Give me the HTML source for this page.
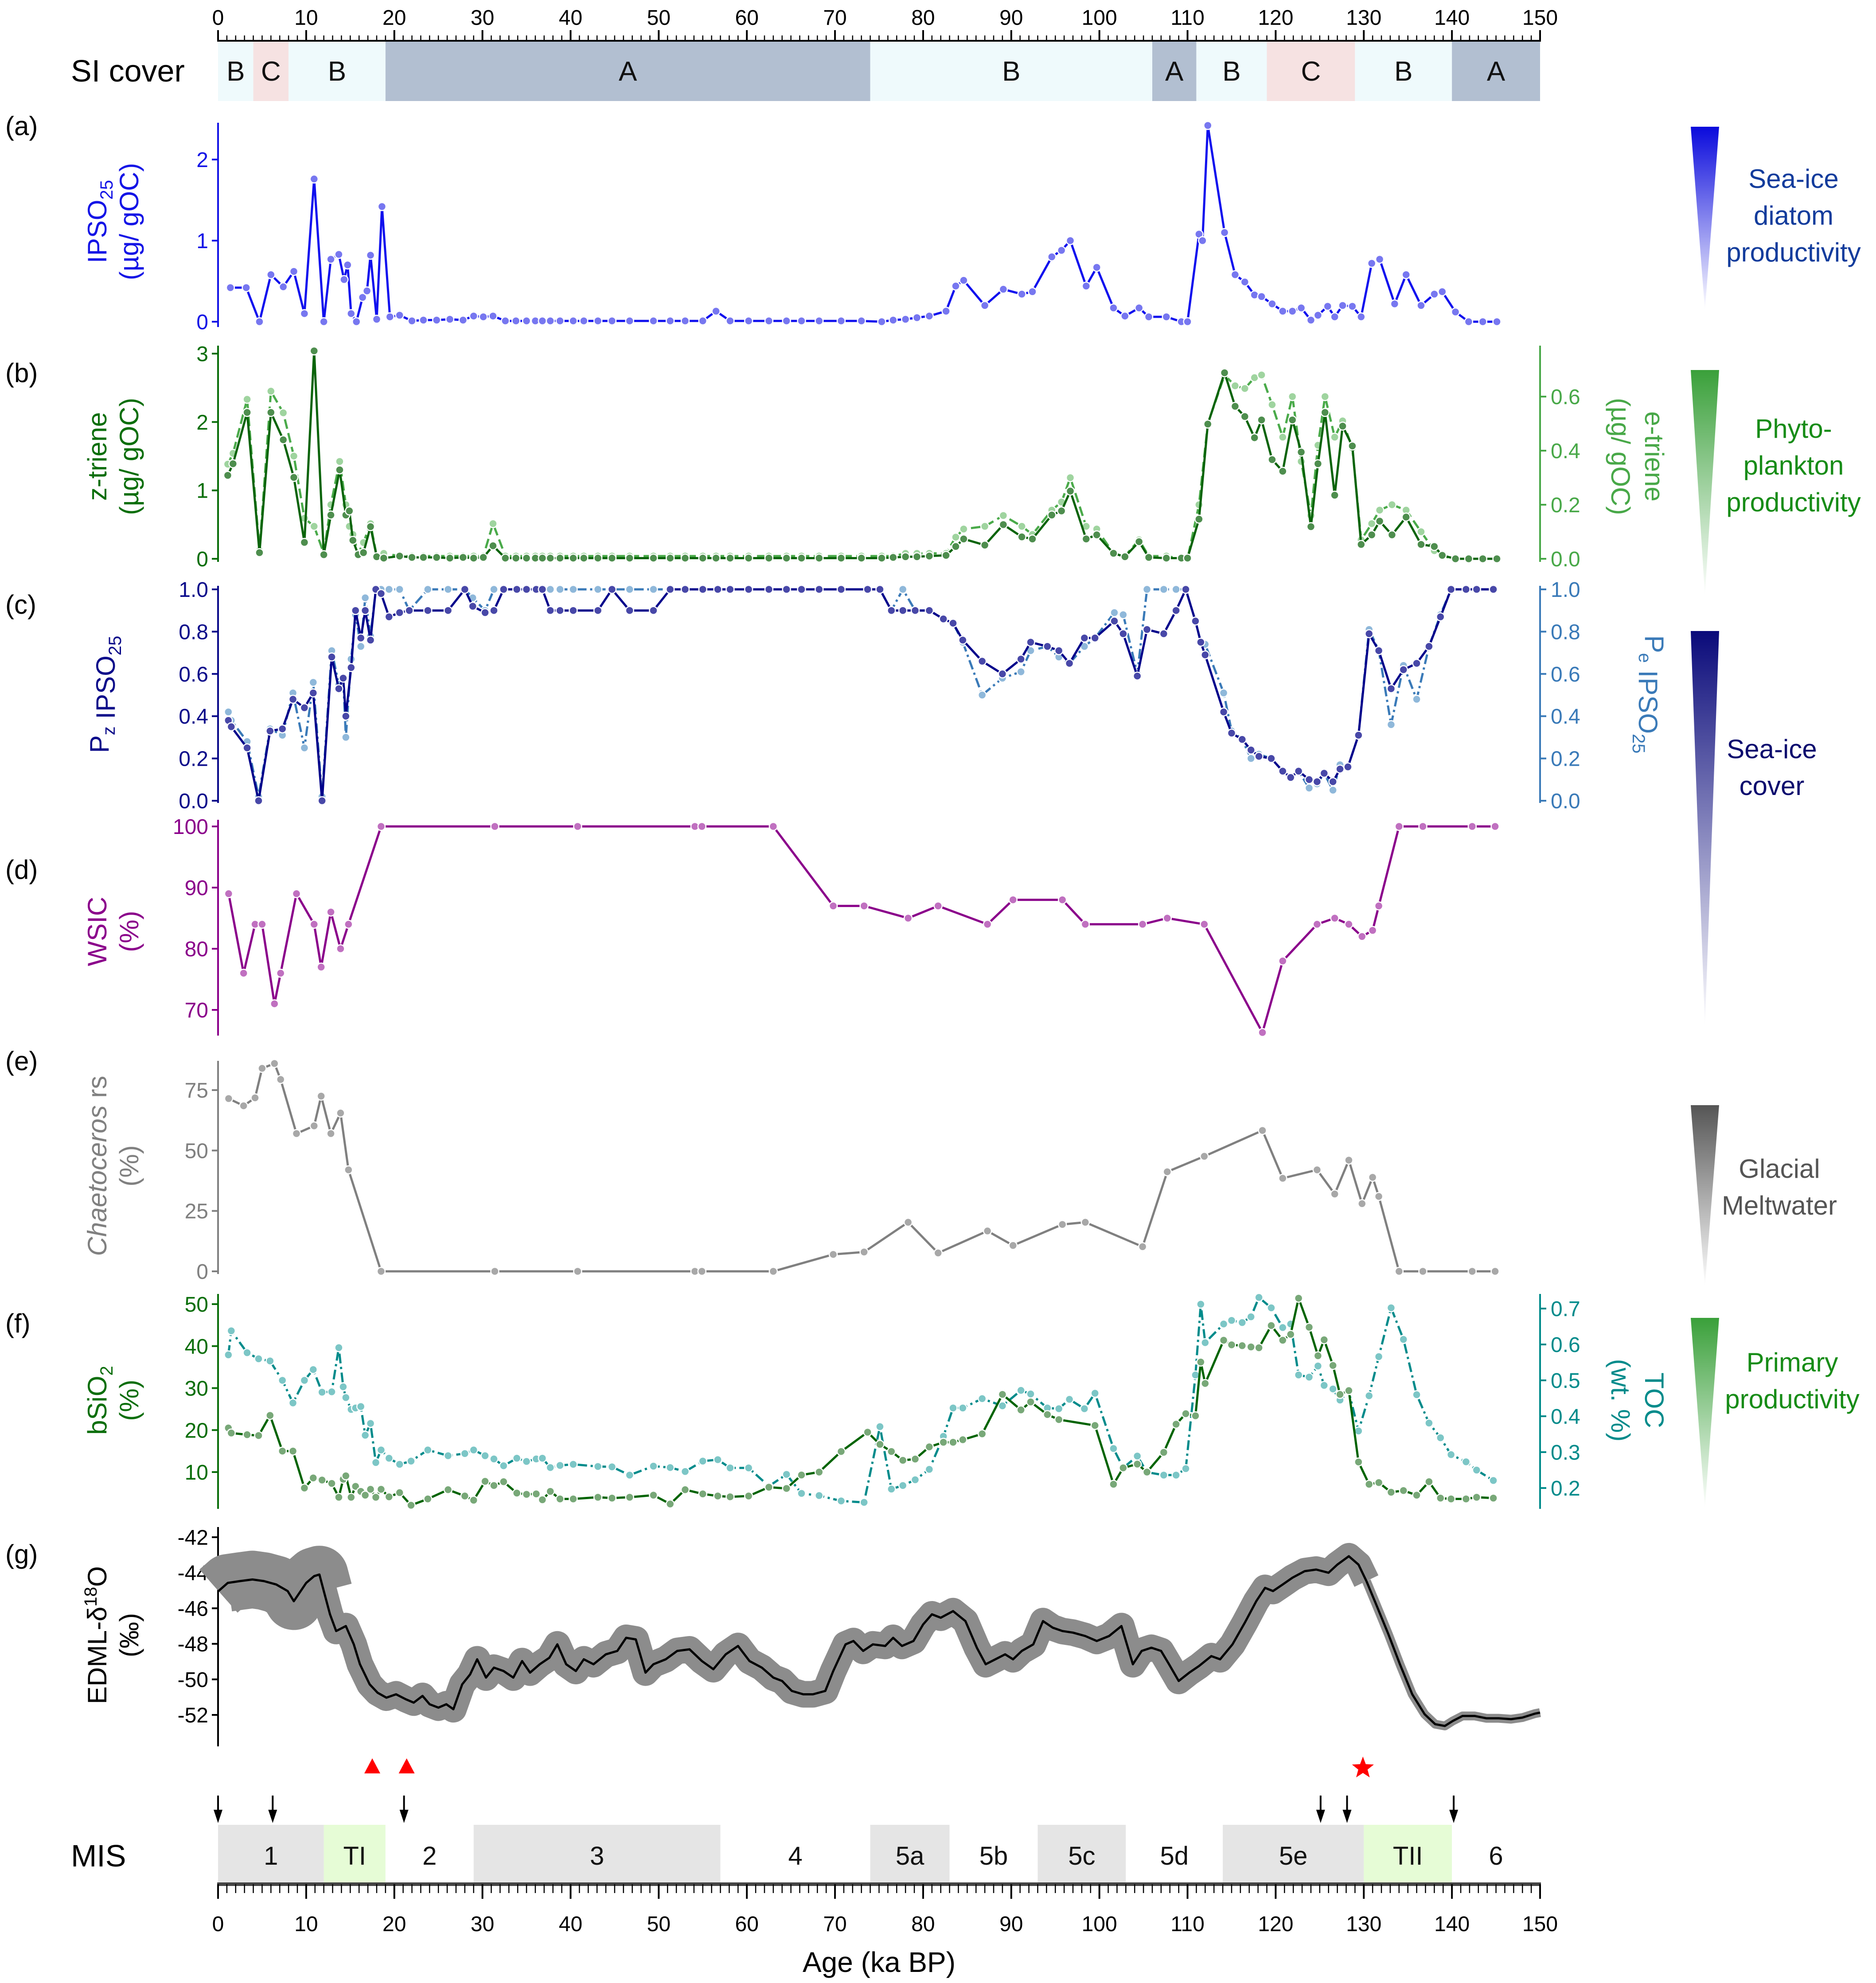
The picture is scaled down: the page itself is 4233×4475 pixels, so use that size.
<!DOCTYPE html>
<html><head><meta charset="utf-8"><style>
html,body{margin:0;padding:0;background:#fff}
svg{display:block;font-family:"Liberation Sans",Arial,sans-serif}
</style></head><body>
<svg id="chart" xmlns="http://www.w3.org/2000/svg" width="4233" height="4475" viewBox="0 0 4233 4475">
<defs>
<linearGradient id="gBlue" x1="0" y1="0" x2="0" y2="1"><stop offset="0" stop-color="#0a0adc"/><stop offset="1" stop-color="#0a0adc" stop-opacity="0"/></linearGradient>
<linearGradient id="gGreen" x1="0" y1="0" x2="0" y2="1"><stop offset="0" stop-color="#3aa03a"/><stop offset="1" stop-color="#3aa03a" stop-opacity="0"/></linearGradient>
<linearGradient id="gNavy" x1="0" y1="0" x2="0" y2="1"><stop offset="0" stop-color="#0a0a7a"/><stop offset="1" stop-color="#0a0a7a" stop-opacity="0"/></linearGradient>
<linearGradient id="gGray" x1="0" y1="0" x2="0" y2="1"><stop offset="0" stop-color="#555"/><stop offset="1" stop-color="#555" stop-opacity="0"/></linearGradient>
</defs>
<g id="root"></g>
</svg>
<script>
// ---------- data ----------
const siBandStarts = [0,4,8,19,74,106,111,119,129,140];
const siBandEnds   = [4,8,19,74,106,111,119,129,140,150];
const siBandLabels = ["B","C","B","A","B","A","B","C","B","A"];
const misStarts = [0,12,19,29,57,74,83,93,103,114,130,140];
const misEnds   = [12,19,29,57,74,83,93,103,114,130,140,150];
const misLabels = ["1","TI","2","3","4","5a","5b","5c","5d","5e","TII","6"];
const xTicks = [0,10,20,30,40,50,60,70,80,90,100,110,120,130,140,150];

const ipsoAges = [1.4,3.2,4.7,6,7.4,8.6,9.8,10.9,12,12.8,13.7,14.3,14.7,15.1,15.7,16.4,16.9,17.3,18,18.6,19.5,20.6,22,23.3,24.8,26.3,27.8,29,30.1,31.2,32.6,33.8,35,36,36.8,37.7,38.8,40.3,41.5,43.1,44.7,46.7,49.4,51.3,53,55,56.5,58.1,60.2,62.5,64.5,66.2,68.2,70.7,73,75.3,76.6,78,79.3,80.7,82.6,83.7,84.6,87,89.1,91.2,92.4,94.6,95.7,96.7,98.5,99.7,101.6,102.9,104.5,105.6,107.6,109.3,110,111.3,111.7,112.3,114.2,115.4,116.5,117.6,118.4,119.6,120.8,121.9,122.9,124,124.8,125.9,126.7,127.6,128.7,129.7,130.9,131.8,133.5,134.8,136.5,138,138.9,140.4,141.9,143.5,145.1];
const ipsoVals = [0.42,0.42,0,0.58,0.43,0.62,0.1,1.76,0,0.77,0.83,0.52,0.7,0.1,0,0.3,0.38,0.82,0.03,1.42,0.06,0.08,0.01,0.02,0.02,0.03,0.02,0.07,0.06,0.07,0.01,0.01,0.01,0.01,0.01,0.01,0.01,0.01,0.01,0.01,0.01,0.01,0.01,0.01,0.01,0.01,0.13,0.01,0.01,0.01,0.01,0.01,0.01,0.01,0.01,0,0.02,0.03,0.05,0.07,0.13,0.44,0.51,0.2,0.4,0.34,0.37,0.8,0.88,1.0,0.44,0.67,0.17,0.07,0.17,0.06,0.06,0,0,1.08,1.0,2.42,1.1,0.58,0.49,0.33,0.31,0.22,0.13,0.13,0.17,0.02,0.08,0.19,0.06,0.2,0.19,0.06,0.72,0.77,0.22,0.58,0.2,0.34,0.37,0.12,0,0,0];
const ipsoTicks = [0,1,2];

const trieneAges = [1.1,1.7,3.3,4.7,6,7.4,8.6,9.8,10.9,12,12.8,13.8,14.5,14.9,15.3,15.9,16.5,17.3,18,18.8,20.6,22,23.3,24.8,26.3,27.8,29,30.1,31.2,32.6,33.8,35,36,36.8,37.7,38.8,40.3,41.5,43.1,44.7,46.7,49.4,51.3,53,55,56.5,58.1,60.2,62.5,64.5,66.2,68.2,70.7,73,75.3,76.6,78,79.3,80.7,82.6,83.7,84.6,87,89.1,91.2,92.4,94.6,95.7,96.7,98.5,99.7,101.6,102.9,104.5,105.6,107.6,109.3,110,111.3,112.3,114.2,115.4,116.5,117.6,118.4,119.6,120.8,121.9,122.9,124,124.8,125.6,126.7,127.6,128.7,129.7,130.9,131.8,133.2,134.8,136.5,138,138.9,140.4,141.9,143.5,145.1];
const zTrieneVals = [1.22,1.39,2.14,0.09,2.14,1.74,1.19,0.24,3.04,0.06,0.64,1.3,0.64,0.7,0.27,0.06,0.09,0.47,0.03,0.01,0.04,0.02,0.02,0.02,0.01,0.02,0.01,0.02,0.19,0.01,0.01,0.01,0.01,0.01,0.01,0.01,0.01,0.01,0.01,0.01,0.01,0.01,0.01,0.01,0.01,0.01,0.01,0.01,0.01,0.01,0.01,0.01,0.01,0.01,0.01,0.02,0.03,0.03,0.04,0.05,0.18,0.29,0.2,0.5,0.32,0.29,0.64,0.7,0.99,0.29,0.35,0.08,0.03,0.25,0.02,0.01,0.01,0.01,0.58,1.97,2.72,2.23,2.08,1.77,2.03,1.45,1.28,2.03,1.56,0.47,1.39,2.14,0.93,1.94,1.65,0.21,0.35,0.55,0.35,0.61,0.21,0.18,0.05,0,0,0,0];
const eTrieneVals = [0.35,0.39,0.59,0.03,0.62,0.54,0.38,0.15,0.12,0.02,0.2,0.36,0.2,0.12,0.09,0.02,0.06,0.13,0.01,0.02,0.01,0.01,0.01,0.01,0.01,0.01,0.01,0.01,0.13,0.01,0.01,0.01,0.01,0.01,0.01,0.01,0.01,0.01,0.01,0.01,0.01,0.01,0.01,0.01,0.01,0.01,0.01,0.01,0.01,0.01,0.01,0.01,0.01,0.01,0.01,0.01,0.02,0.02,0.02,0.02,0.08,0.11,0.12,0.16,0.12,0.09,0.18,0.21,0.3,0.12,0.11,0.02,0.01,0.07,0.01,0.01,0,0,0.2,0.5,0.68,0.64,0.63,0.67,0.68,0.57,0.45,0.6,0.36,0.16,0.42,0.6,0.45,0.51,0.41,0.07,0.13,0.18,0.2,0.18,0.1,0.03,0.01,0,0,0,0];
const zTicks = [0,1,2,3];
const eTicks = [0,0.2,0.4,0.6];

const pAges = [1.17,1.5,3.3,4.6,5.9,7.3,8.5,9.8,10.8,11.8,12.9,13.7,14.2,14.5,15.1,15.6,16.2,16.7,17.3,17.9,18.5,19.4,20.6,21.7,23.8,26.1,28,28.9,30.3,31.3,32.4,33.9,35,36.1,36.8,37.7,38.8,40.3,43.1,44.7,46.7,49.4,51.3,53,55,56.7,58.1,60.2,62.5,64.5,66.2,68.2,70.7,73.7,75.1,76.4,77.7,79.1,80.7,82.3,83.4,84.5,86.7,89,91.1,92.2,94.1,95.4,96.6,98.3,99.5,101.7,102.7,104.3,105.4,107.3,108.7,109.8,110.9,111.5,112,114.1,115,116.2,117.2,118.1,119.5,120.8,121.7,122.6,123.8,124.7,125.5,126.5,127.3,128.2,129.4,130.6,131.7,133.1,134.5,136,137.4,138.7,139.9,141.6,142.8,144.7];
const pzVals = [0.38,0.35,0.25,0,0.33,0.34,0.48,0.44,0.51,0,0.68,0.53,0.58,0.4,0.63,0.9,0.77,0.9,0.76,1.0,0.98,0.87,0.89,0.9,0.9,0.9,1.0,0.92,0.89,0.9,1.0,1.0,1.0,1.0,1.0,0.9,0.9,0.9,0.9,1.0,0.9,0.9,1.0,1.0,1.0,1.0,1.0,1.0,1.0,1.0,1.0,1.0,1.0,1.0,1.0,0.9,0.9,0.9,0.9,0.86,0.84,0.76,0.66,0.6,0.67,0.75,0.73,0.71,0.65,0.77,0.77,0.85,0.79,0.59,0.81,0.79,0.9,1.0,0.85,0.75,0.69,0.42,0.32,0.29,0.24,0.21,0.2,0.14,0.11,0.14,0.1,0.09,0.13,0.09,0.15,0.16,0.31,0.79,0.71,0.53,0.62,0.65,0.73,0.87,1.0,1.0,1.0,1.0];
const peVals = [0.42,0.38,0.28,0.02,0.34,0.31,0.51,0.25,0.56,0.02,0.71,0.55,0.58,0.3,0.67,0.88,0.73,0.96,0.78,1.0,1.0,1.0,1.0,0.9,1.0,1.0,1.0,0.96,0.9,1.0,1.0,1.0,1.0,1.0,1.0,1.0,1.0,1.0,1.0,1.0,1.0,1.0,1.0,1.0,1.0,1.0,1.0,1.0,1.0,1.0,1.0,1.0,1.0,1.0,1.0,0.9,1.0,0.9,0.9,0.86,0.84,0.75,0.5,0.58,0.61,0.71,0.73,0.68,0.65,0.73,0.77,0.89,0.88,0.6,1.0,1.0,1.0,1.0,0.85,0.75,0.74,0.51,0.33,0.29,0.2,0.22,0.2,0.14,0.11,0.14,0.06,0.08,0.13,0.05,0.17,0.16,0.31,0.81,0.71,0.36,0.64,0.48,0.73,0.88,1.0,1.0,1.0,1.0];
const pTicks = [0,0.2,0.4,0.6,0.8,1.0];

const wsicAges = [1.2,2.9,4.2,5,6.4,7.1,8.9,10.9,11.7,12.8,13.9,14.8,18.5,31.4,40.8,54.1,54.9,63,69.8,73.3,78.3,81.7,87.3,90.2,95.8,98.4,104.9,107.7,111.9,118.5,120.8,124.7,126.7,128.3,129.8,131,131.7,134,136.7,142.3,144.9];
const wsicVals = [89,76,84,84,71,76,89,84,77,86,80,84,100,100,100,100,100,100,87,87,85,87,84,88,88,84,84,85,84,66.3,78,84,85,84,82,83,87,100,100,100,100];
const wsicTicks = [70,80,90,100];

const chaetAges = wsicAges;
const chaetVals = [71.5,68.5,71.8,84,86,79.4,57,60.2,72.5,57,65.5,42,0,0,0,0,0,0,7,8,20.3,7.6,16.7,10.7,19.4,20.3,10.2,41.2,47.6,58.3,38.5,42,32,46,28,38.9,31,0,0,0,0];
const chaetTicks = [0,25,50,75];

const bsiAges = [1.17,1.5,3.3,4.6,5.9,7.3,8.5,9.8,10.8,11.8,12.9,13.7,14.2,14.5,15.1,15.6,16.2,16.7,17.3,17.9,18.5,19.4,20.6,21.9,23.8,26.1,28,29,30.3,31.3,32.4,33.9,35,36.1,36.8,37.7,38.8,40.3,43.1,44.7,46.7,49.4,51.3,53,55,56.7,58.1,60.2,62.5,64.5,66.2,68.2,70.7,73.7,75.1,76.4,77.7,79.1,80.7,82.3,83.4,84.5,86.7,89,91.1,92.2,94.1,95.4,99.5,101.6,102.7,104.3,105.4,107.3,108.7,109.8,110.9,111.5,112,114.1,115,116.2,117.2,118.1,119.5,120.8,121.7,122.6,123.8,124.8,125.5,126.5,127.3,128.3,129.4,130.6,131.7,133.1,134.5,136,137.4,138.7,139.9,141.6,142.8,144.7];
const bsiVals = [20.5,19.3,18.9,18.7,23.5,15,15,6.2,8.6,8.1,7.3,4,8.3,9.1,4,6.6,5.4,4.5,5.9,4,5.9,4.1,5.1,2.1,3.6,5.8,4.3,3.3,7.8,6.8,7.7,5,4.7,4.8,3.4,5.4,3.6,3.6,4,3.8,4,4.5,2.4,5.8,4.8,4.3,4.1,4.3,6.4,6.1,9.3,10,14.9,19.5,16.6,14.9,12.8,13.1,16,17.1,17.1,17.7,19.1,28.5,24.8,26.7,23.7,22.5,21.1,7.1,11,11.9,10,14.7,21.4,23.9,23.4,36.2,31.1,41.4,40.3,40.1,39.8,39.6,44.9,41.4,42.8,51.4,44.5,37.7,41.5,35.4,28.5,29.4,12.4,7.1,7.5,5.2,5.6,4.5,7.7,3.8,3.6,3.6,4,3.8];
const bsiTicks = [10,20,30,40,50];

const tocAges = [1.17,1.5,3.3,4.6,5.9,7.3,8.5,9.8,10.8,11.8,12.9,13.7,14.2,14.5,15.1,15.6,16.2,16.7,17.3,17.9,18.5,19.4,20.6,21.9,23.8,26.1,28,29,30.3,31.3,32.4,33.9,35,36.1,36.8,37.7,38.8,40.3,43.1,44.7,46.7,49.4,51.3,53,55,56.7,58.1,60.2,62.5,64.5,66.2,68.2,70.7,73.3,75.1,76.4,77.7,79.1,80.7,82.3,83.4,84.5,86.7,89,91.1,92.2,94.1,95.4,96.6,98.3,99.5,101.6,102.7,104.3,105.4,107.3,108.7,109.8,110.9,111.5,112,114.1,115,116.2,117.2,118.1,119.5,120.8,121.7,122.6,123.8,124.8,125.5,126.5,127.3,128.3,129.4,130.6,131.7,133.1,134.5,136,137.4,138.7,139.9,141.6,142.8,144.7];
const tocVals = [0.571,0.638,0.577,0.56,0.554,0.5,0.437,0.5,0.53,0.467,0.468,0.591,0.482,0.452,0.419,0.423,0.427,0.347,0.38,0.271,0.306,0.283,0.266,0.275,0.306,0.29,0.296,0.306,0.29,0.281,0.262,0.283,0.274,0.281,0.283,0.257,0.263,0.266,0.26,0.259,0.236,0.261,0.257,0.246,0.275,0.279,0.256,0.256,0.205,0.238,0.185,0.179,0.164,0.16,0.371,0.197,0.207,0.223,0.252,0.344,0.423,0.423,0.449,0.429,0.472,0.462,0.423,0.421,0.447,0.421,0.464,0.31,0.256,0.289,0.244,0.236,0.236,0.254,0.515,0.712,0.605,0.657,0.667,0.661,0.677,0.731,0.702,0.647,0.657,0.515,0.509,0.54,0.486,0.476,0.445,0.468,0.359,0.457,0.566,0.702,0.614,0.46,0.381,0.34,0.293,0.273,0.25,0.221];
const tocTicks = [0.2,0.3,0.4,0.5,0.6,0.7];

const edmlAges = [0.05,1.1,2.5,3.9,5.2,6.6,7.9,8.6,10,10.9,11.5,12,12.7,13.4,14.5,15.4,16.1,17.2,18.1,19.1,20.2,21.3,22.2,23.2,24,25,25.9,26.7,27.7,28.6,29.4,30.4,31.3,32.4,33.5,34.5,35.4,36.5,37.6,38.5,39.5,40.6,41.5,42.6,44,45.3,46.3,47.4,48.5,49.4,50.8,52.1,53.5,54.9,56.2,57.6,59,60.3,61.7,63,64,65.1,66.4,67.5,68.9,69.8,71.2,72.1,73.2,74.3,75.7,76.6,77.6,78.9,80,81,82,83.4,84.8,86.1,87.1,88.2,89.3,90.2,91.2,92.5,93.6,94.7,95.8,97,98.4,99.7,101.1,102.5,103.8,104.8,105.9,107,107.9,109,110.2,111.3,112.7,113.7,115.1,116.5,117.8,118.8,119.7,120.8,121.9,123.3,124.6,126,127,128.3,129.4,130.3,131.4,132.8,134.1,135.5,136.9,138.1,139.2,140.1,141.2,142.6,143.9,145.3,146.7,148,149.4,150];
const edmlVals = [-45.03,-44.57,-44.47,-44.38,-44.47,-44.66,-45.03,-45.6,-44.57,-44.19,-44.1,-45.03,-46.34,-47.28,-47,-48.03,-49.15,-50.28,-50.75,-51.03,-50.84,-51.12,-51.31,-50.93,-51.4,-51.59,-51.4,-51.68,-50.28,-49.72,-48.87,-49.9,-49.34,-49.53,-49.9,-48.97,-49.62,-49.15,-48.78,-48.03,-49.15,-49.53,-48.87,-49.15,-48.59,-48.4,-47.66,-47.75,-49.62,-49.15,-48.87,-48.4,-48.31,-48.97,-49.43,-48.59,-48.12,-48.97,-49.34,-49.9,-50.09,-50.65,-50.84,-50.84,-50.65,-49.53,-48.03,-47.84,-48.4,-48.03,-48.12,-47.66,-48.12,-47.84,-46.91,-46.34,-46.53,-46.16,-46.72,-48.22,-49.15,-48.87,-48.59,-48.87,-48.4,-48.03,-46.72,-47.09,-47.28,-47.37,-47.56,-47.84,-47.56,-47,-49.15,-48.4,-48.22,-48.4,-49.15,-50.09,-49.62,-49.25,-48.69,-48.87,-48.03,-46.81,-45.6,-44.85,-45.03,-44.66,-44.28,-43.91,-43.82,-44,-43.54,-43.07,-43.54,-44.47,-45.78,-47.47,-49.15,-50.84,-51.96,-52.52,-52.62,-52.34,-52.06,-52.06,-52.19,-52.19,-52.24,-52.15,-51.93,-51.87];
const edmlTicks = [-52,-50,-48,-46,-44,-42];

const triangleAges = [17.5,21.4];
const starAges = [129.9];
const arrowAges = [0,6.2,21.1,125.1,128.1,140.2];

// ---------- helpers ----------
const NS = "http://www.w3.org/2000/svg";
const root = document.getElementById('root');
const X0 = 492, X1 = 3475;
function xs(a){ return X0 + a*(X1-X0)/150; }
function lin(d0,d1,r0,r1){ return v => r0 + (v-d0)*(r1-r0)/(d1-d0); }
function el(tag, attrs, parent){
  const e = document.createElementNS(NS, tag);
  for (const k in attrs) e.setAttribute(k, attrs[k]);
  (parent||root).appendChild(e);
  return e;
}
function txt(str, attrs, parent){ const t = el('text', attrs, parent); t.textContent = str; return t; }

// ---------- top axis ----------
const topAxis = el('g', {});


el('line', {x1:X0-2,x2:X1+2,y1:92,y2:92,stroke:'#000','stroke-width':4}, topAxis);
for (let a=0; a<=150; a++){
  const major = a%10===0;
  el('line', {x1:xs(a),x2:xs(a),y1:92,y2:major?68:80,stroke:'#000','stroke-width':major?4:2.5}, topAxis);
}
xTicks.forEach(v=>{
  const t = txt(String(v), {x:xs(v), y:56, 'font-size':48, 'text-anchor':'middle', fill:'#000'}, topAxis);
  
  
});

// ---------- SI cover ----------
const siG = el('g', {});


const siColors = {A:'#b2bfd1', B:'#effafc', C:'#f6e2e2'};
siBandStarts.forEach((s,i)=>{
  const r = el('rect', {x:xs(s), y:94, width:xs(siBandEnds[i])-xs(s), height:134, fill:siColors[siBandLabels[i]]}, siG);
  
  
  txt(siBandLabels[i], {x:(xs(s)+xs(siBandEnds[i]))/2, y:182, 'font-size':62, 'text-anchor':'middle', fill:'#111'}, siG);
});
const siT = txt('SI cover', {x:160, y:184, 'font-size':70, fill:'#000'});



// ---------- panel helper ----------
function axisLeft(g, ys, ticks, fmt, color, top, bottom){
  el('line', {x1:X0,x2:X0,y1:top,y2:bottom,stroke:color,'stroke-width':4}, g);
  ticks.forEach(v=>{
    el('line', {x1:X0-14,x2:X0,y1:ys(v),y2:ys(v),stroke:color,'stroke-width':4}, g);
    const t = txt(fmt(v), {x:X0-22, y:ys(v)+17, 'font-size':48, 'text-anchor':'end', fill:color}, g);
    
    
  });
}
function axisRight(g, ys, ticks, fmt, color, top, bottom){
  el('line', {x1:X1,x2:X1,y1:top,y2:bottom,stroke:color,'stroke-width':4}, g);
  ticks.forEach(v=>{
    el('line', {x1:X1,x2:X1+14,y1:ys(v),y2:ys(v),stroke:color,'stroke-width':4}, g);
    const t = txt(fmt(v), {x:X1+24, y:ys(v)+17, 'font-size':48, 'text-anchor':'start', fill:color}, g);
    
    
  });
}
function series(g, ages, vals, ys, lineColor, dotColor, dash, name){
  const pts = ages.map((a,i)=> xs(a).toFixed(1)+','+ys(vals[i]).toFixed(1)).join(' ');
  const pl = el('polyline', {points:pts, fill:'none', stroke:lineColor, 'stroke-width':5, 'stroke-linejoin':'round', 'stroke-dasharray':dash||'none'}, g);
  
  
  ages.forEach((a,i)=>{
    const c = el('circle', {cx:xs(a), cy:ys(vals[i]), r:9, fill:dotColor, stroke:'#fff', 'stroke-width':2.5}, g);
    
    
  });
}
function leftTitle(lines, yc, color){
  const g = el('g', {});
  
  
  const xsPos = lines.length===1 ? [245] : [240,312];
  lines.forEach((ln,i)=>{
    const t = el('text', {x:xsPos[i], y:yc, 'font-size':60, 'text-anchor':'middle', fill:color, transform:`rotate(-90 ${xsPos[i]} ${yc})`}, g);
    t.innerHTML = ln;
  });
}
function rightTitle(lines, yc, color){
  const g = el('g', {});
  
  
  const xsPos = lines.length===1 ? [3712] : [3712,3636];
  lines.forEach((ln,i)=>{
    const t = el('text', {x:xsPos[i], y:yc, 'font-size':60, 'text-anchor':'middle', fill:color, transform:`rotate(90 ${xsPos[i]} ${yc})`}, g);
    t.innerHTML = ln;
  });
}
function panelLabel(s, y){
  const t = txt(s, {x:12, y:y, 'font-size':60, fill:'#000'});
  
  
}
const SUB = (s)=>`<tspan font-size="40" dy="14">${s}</tspan><tspan dy="-14"></tspan>`;

// (a)
{
  const g = el('g', {});  
  const ys = lin(0,2,726,360);
  axisLeft(g, ys, ipsoTicks, v=>String(v), '#1414e6', 277, 738);
  series(g, ipsoAges, ipsoVals, ys, '#1010ee', '#7777f0', null, 'ipso25');
  leftTitle(['IPSO'+SUB('25'), '(µg/ gOC)'], 500, '#1414e6');
  panelLabel('(a)', 305);
}
// (b)
{
  const g = el('g', {});  
  const ys = lin(0,3,1261,798);
  const ye = lin(0,0.6,1261,895);
  axisLeft(g, ys, zTicks, v=>String(v), '#0a6e0a', 780, 1268);
  axisRight(g, ye, eTicks, v=>v.toFixed(1), '#48a848', 780, 1268);
  series(g, trieneAges, eTrieneVals, ye, '#4aaa4a', '#9fd49f', '22 10', 'e-triene');
  series(g, trieneAges, zTrieneVals, ys, '#0a640a', '#4e8e4e', null, 'z-triene');
  leftTitle(['z-triene', '(µg/ gOC)'], 1030, '#0a6e0a');
  rightTitle(['e-triene', '(µg/ gOC)'], 1030, '#48a848');
  panelLabel('(b)', 862);
}
// (c)
{
  const g = el('g', {});  
  const ys = lin(0,1,1807,1330);
  axisLeft(g, ys, pTicks, v=>v.toFixed(1), '#0a0a8a', 1322, 1812);
  axisRight(g, ys, pTicks, v=>v.toFixed(1), '#3a7ab8', 1322, 1812);
  series(g, pAges, peVals, ys, '#3a7ab8', '#8fb8da', '22 8 5 8', 'pe-ipso25');
  series(g, pAges, pzVals, ys, '#00008b', '#4848a8', null, 'pz-ipso25');
  leftTitle(['P'+SUB('z')+' IPSO'+SUB('25')], 1567, '#0a0a8a');
  rightTitle(['P'+SUB('e')+' IPSO'+SUB('25')], 1567, '#3a7ab8');
  panelLabel('(c)', 1385);
}
// (d)
{
  const g = el('g', {});  
  const ys = lin(70,100,2279,1865);
  axisLeft(g, ys, wsicTicks, v=>String(v), '#8b008b', 1850, 2337);
  series(g, wsicAges, wsicVals, ys, '#8b008b', '#c070c0', null, 'wsic');
  leftTitle(['WSIC', '(%)'], 2102, '#8b008b');
  panelLabel('(d)', 1983);
}
// (e)
{
  const g = el('g', {});  
  const ys = lin(0,75,2869,2460);
  axisLeft(g, ys, chaetTicks, v=>String(v), '#808080', 2394, 2875);
  series(g, chaetAges, chaetVals, ys, '#808080', '#a8a8a8', null, 'chaetoceros');
  leftTitle(['<tspan font-style="italic">Chaetoceros</tspan> rs', '(%)'], 2631, '#808080');
  panelLabel('(e)', 2415);
}
// (f)
{
  const g = el('g', {});  
  const ys = lin(10,50,3322,2943);
  const yt = lin(0.2,0.7,3358,2953);
  axisLeft(g, ys, bsiTicks, v=>String(v), '#0a6e0a', 2920, 3405);
  axisRight(g, yt, tocTicks, v=>v.toFixed(1), '#008b8b', 2920, 3405);
  series(g, tocAges, tocVals, yt, '#008b8b', '#7cc6c6', '22 8 5 8', 'toc');
  series(g, bsiAges, bsiVals, ys, '#006400', '#78a878', null, 'bsio2');
  leftTitle(['bSiO'+SUB('2'), '(%)'], 3160, '#0a6e0a');
  rightTitle(['TOC', '(wt. %)'], 3160, '#008b8b');
  panelLabel('(f)', 3007);
}
// (g)
{
  const g = el('g', {});  
  const ys = lin(-42,-52,3469,3870);
  axisLeft(g, ys, edmlTicks, v=>String(v), '#000', 3446, 3941);
  const P = (f)=> edmlAges.map((a,i)=>[a,edmlVals[i]]).filter(p=>f(p[0])).map(p=>xs(p[0]).toFixed(1)+','+ys(p[1]).toFixed(1)).join(' ');
  const raw1 = el('polyline', {points:P(a=>a<=131), fill:'none', stroke:'#8c8c8c', 'stroke-width':60, 'stroke-linejoin':'round', 'stroke-linecap':'butt'}, g);
  
  
  const raw2 = el('polyline', {points:P(a=>a<=12.5), fill:'none', stroke:'#8c8c8c', 'stroke-width':130, 'stroke-linejoin':'round'}, g);
  
  
  const raw3 = el('polyline', {points:P(a=>a>=130), fill:'none', stroke:'#8c8c8c', 'stroke-width':20, 'stroke-linejoin':'round'}, g);
  
  
  const sm = el('polyline', {points:P(a=>true), fill:'none', stroke:'#000', 'stroke-width':5, 'stroke-linejoin':'round'}, g);
  
  
  leftTitle(['EDML-δ<tspan font-size="40" dy="-22">18</tspan><tspan dy="22">O</tspan>', '(‰)'], 3690, '#000');
  panelLabel('(g)', 3528);
}

// ---------- markers ----------
triangleAges.forEach(a=>{
  const x = xs(a);
  const p = el('polygon', {points:`${x-18},4002 ${x+18},4002 ${x},3968`, fill:'#f00'});
  
  
});
starAges.forEach(a=>{
  const cx = xs(a), cy = 3990, R = 26, r = 11;
  let pts = [];
  for (let k=0;k<10;k++){ const ang = -Math.PI/2 + k*Math.PI/5; const rr = k%2?r:R; pts.push((cx+rr*Math.cos(ang)).toFixed(1)+','+(cy+rr*Math.sin(ang)).toFixed(1)); }
  const s = el('polygon', {points:pts.join(' '), fill:'#f00'});
  
  
});
arrowAges.forEach(a=>{
  const x = xs(a);
  const g = el('g', {});
  
  
  el('line', {x1:x,x2:x,y1:4052,y2:4090,stroke:'#000','stroke-width':4}, g);
  el('polygon', {points:`${x-10},4084 ${x+10},4084 ${x},4114`, fill:'#000'}, g);
});

// ---------- MIS ----------
const misG = el('g', {});


misStarts.forEach((s,i)=>{
  const lab = misLabels[i];
  const fill = (lab==='TI'||lab==='TII') ? '#e6fcd6' : (['1','3','5a','5c','5e'].includes(lab) ? '#e5e5e5' : '#fff');
  const r = el('rect', {x:xs(s), y:4118, width:xs(misEnds[i])-xs(s), height:130, fill:fill}, misG);
  
  
  txt(lab, {x:(xs(s)+xs(misEnds[i]))/2, y:4208, 'font-size':58, 'text-anchor':'middle', fill:'#111'}, misG);
});
const misT = txt('MIS', {x:160, y:4212, 'font-size':70, fill:'#000'});



// ---------- bottom axis ----------
const botAxis = el('g', {});


el('line', {x1:X0-2,x2:X1+2,y1:4252,y2:4252,stroke:'#444','stroke-width':8}, botAxis);
for (let a=0; a<=150; a++){
  const major = a%10===0;
  el('line', {x1:xs(a),x2:xs(a),y1:4252,y2:major?4285:4272,stroke:'#000','stroke-width':major?4:2.5}, botAxis);
}
xTicks.forEach(v=>{
  const t = txt(String(v), {x:xs(v), y:4358, 'font-size':48, 'text-anchor':'middle', fill:'#000'}, botAxis);
  
  
});
const xt = txt('Age (ka BP)', {x:(X0+X1)/2, y:4450, 'font-size':64, 'text-anchor':'middle', fill:'#000'});



// ---------- right-side gradient legends ----------
function wedge(name, top, bottom, grad, cx, lines, tx, ty0, color){
  const g = el('g', {});
  
  
  el('polygon', {points:`${cx-32},${top} ${cx+32},${top} ${cx},${bottom}`, fill:`url(#${grad})`}, g);
  lines.forEach((ln,i)=> txt(ln, {x:tx, y:ty0+i*83, 'font-size':60, 'text-anchor':'middle', fill:color}, g));
}
wedge('sea-ice-diatom-legend', 286, 700, 'gBlue', 3847, ['Sea-ice','diatom','productivity'], 4047, 424, '#123c9c');
wedge('phytoplankton-legend', 835, 1344, 'gGreen', 3847, ['Phyto-','plankton','productivity'], 4047, 988, '#178c17');
wedge('sea-ice-cover-legend', 1424, 2317, 'gNavy', 3847, ['Sea-ice','cover'], 3998, 1711, '#0a0a6e');
wedge('glacial-meltwater-legend', 2494, 2903, 'gGray', 3847, ['Glacial','Meltwater'], 4015, 2658, '#555');
wedge('primary-productivity-legend', 2974, 3403, 'gGreen', 3847, ['Primary','productivity'], 4044, 3095, '#178c17');
</script>
</body></html>
